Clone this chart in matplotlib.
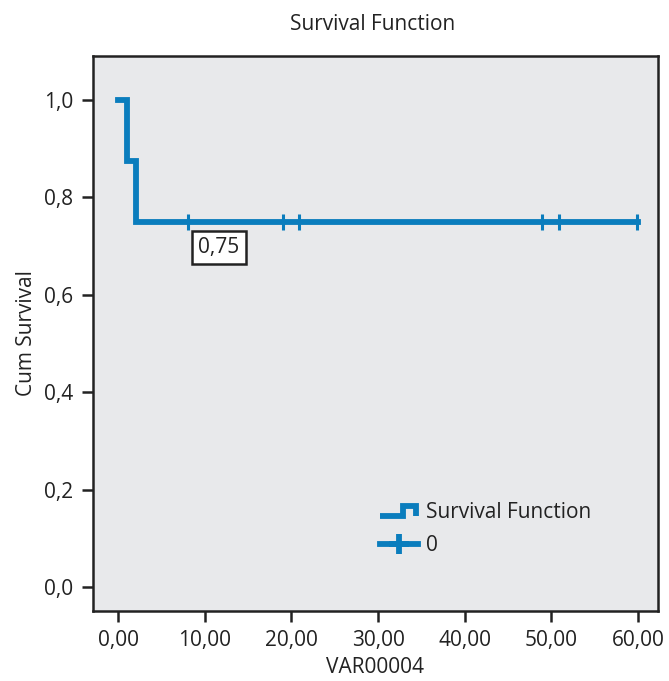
import numpy as np
import matplotlib
matplotlib.use("Agg")
import matplotlib.pyplot as plt
from matplotlib.lines import Line2D
from matplotlib.legend_handler import HandlerBase
from matplotlib.ticker import FuncFormatter

# survival step data
step_times = [0.0, 1.0, 2.1, 60.0]
step_surv = [1.0, 0.875, 0.75, 0.75]
censor_times = [8.1, 19.0, 20.9, 48.9, 50.9, 59.9]
censor_surv = [0.75, 0.75, 0.75, 0.75, 0.75, 0.75]
x_ticks = [0, 10, 20, 30, 40, 50, 60]
y_ticks = [0.0, 0.2, 0.4, 0.6, 0.8, 1.0]

blue = '#0a7dbd'
dark = '#222222'
fs = 15
plt.rcParams['font.family'] = ['Open Sans', 'DejaVu Sans']


class StepHandler(HandlerBase):
    """ Draw the little step icon used for the survival function """
    def create_artists(self, legend, orig_handle, xdescent, ydescent,
                       width, height, fontsize, trans):
        xs = [0, width * 0.6, width * 0.6, width * 0.95, width * 0.95]
        ys = [height * 0.1, height * 0.1, height * 0.8, height * 0.8,
              height * 0.1]
        l = Line2D(np.array(xs) - xdescent, np.array(ys) - ydescent,
                   color=blue, lw=4.2, solid_joinstyle='miter',
                   solid_capstyle='butt', transform=trans)
        return [l]


fig = plt.figure(figsize=(6.69, 6.81), dpi=100)
ax = fig.add_axes([93 / 669, 1 - 611 / 681, 565 / 669, 555 / 681])
ax.set_facecolor('#e8e9eb')

ax.step(step_times, step_surv, where='post', color=blue, lw=4.2,
        solid_joinstyle='miter')
ax.plot(censor_times, censor_surv, ls='none', marker='|', ms=12, mew=2.2,
        color=blue)

ax.text(11.6, 0.697, '0,75', ha='center', va='center', fontsize=fs,
        color=dark,
        bbox=dict(boxstyle='square,pad=0.3', fc='white', ec=dark, lw=1.8))

ax.set_xlim(-2.9, 62.3)
ax.set_ylim(-0.049, 1.09)
ax.set_xticks(x_ticks)
ax.set_yticks(y_ticks)
ax.xaxis.set_major_formatter(FuncFormatter(lambda v, p: f'{v:.2f}'.replace('.', ',')))
ax.yaxis.set_major_formatter(FuncFormatter(lambda v, p: f'{v:.1f}'.replace('.', ',')))
ax.tick_params(direction='out', length=8, width=1.8, color=dark,
               labelsize=fs, labelcolor=dark, pad=6)
for s in ax.spines.values():
    s.set_linewidth(1.8)
    s.set_color(dark)

ax.set_xlabel('VAR00004', fontsize=fs, color=dark, labelpad=4)
ax.set_ylabel('Cum Survival', fontsize=fs, color=dark, labelpad=5)
fig.text(373 / 669, 1 - 25 / 681, 'Survival Function', ha='center',
         va='center', fontsize=fs, color=dark)

h_step = Line2D([], [], color=blue)
h_cens = Line2D([], [], color=blue, lw=4.2, marker='+', ms=14, mew=4.2)
leg = ax.legend([h_step, h_cens], ['Survival Function', '0'],
                handler_map={h_step: StepHandler()},
                loc='lower left', bbox_to_anchor=(0.49, 0.08),
                frameon=False, fontsize=fs, handlelength=1.8,
                handletextpad=0.4, labelspacing=0.6, borderpad=0)
for t in leg.get_texts():
    t.set_color(dark)

fig.savefig('out.png', dpi=100)
